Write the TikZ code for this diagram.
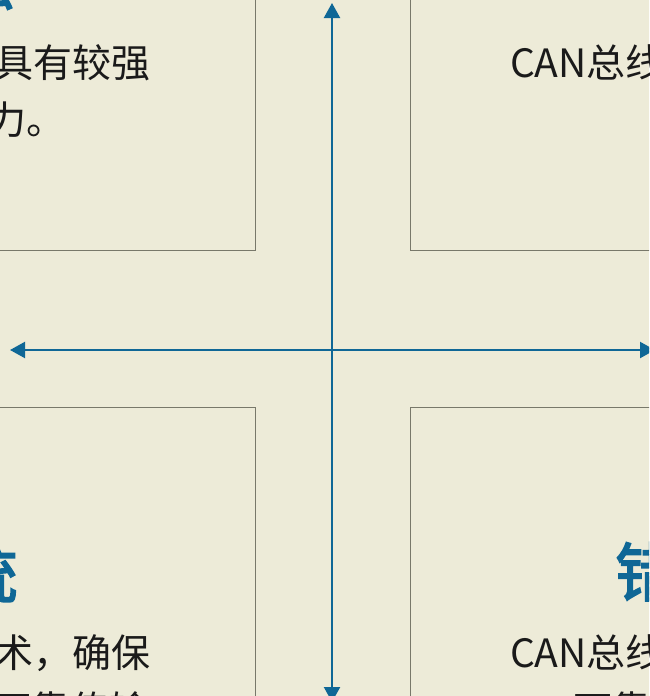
\documentclass[tikz,border=0pt]{standalone}
\usepackage{fontspec}
\setmainfont{Noto Sans CJK SC}
\newfontfamily\cjkbold{Noto Sans CJK SC}[FakeBold=2.5]
\usetikzlibrary{arrows.meta}
\definecolor{bgc}{HTML}{EDEBD8}
\definecolor{axisblue}{HTML}{0F6796}
\definecolor{boxline}{HTML}{78786A}
\definecolor{txt}{HTML}{1A1A1A}
\tikzset{
  panel/.style={draw=boxline, line width=1pt, fill=bgc, rectangle, inner sep=0pt, outer sep=0pt},
  body/.style={inner sep=0pt, outer sep=0pt, text=txt, font=\fontsize{39}{47}\selectfont},
  head/.style={inner sep=0pt, outer sep=0pt, text=axisblue, font=\cjkbold\fontsize{64}{70}\selectfont},
  axis/.style={draw=axisblue, line width=2.2pt, {Triangle[length=15pt,width=16pt]}-{Triangle[length=15pt,width=16pt]}}
}
\begin{document}
\begin{tikzpicture}[x=1pt,y=-1pt]
\useasboundingbox (0,0) rectangle (649,696);
\fill[bgc] (0,0) rectangle (649,696);
\clip (0,0) rectangle (649,696);
% panels
\node[panel, minimum width=455pt, minimum height=400pt, anchor=south east] (tl) at (255,250) {};
\node[panel, minimum width=455pt, minimum height=400pt, anchor=south west] (tr) at (410,250) {};
\node[panel, minimum width=455pt, minimum height=443pt, anchor=north east] (bl) at (255,407) {};
\node[panel, minimum width=455pt, minimum height=443pt, anchor=north west] (br) at (410,407) {};
% top-left texts
\node[head, anchor=base east] (tlh) at (14,4) {抗干扰性强};
\node[body, anchor=base east] (tl1) at (151,77) {总线具有较强};
\node[body, anchor=base east] (tl2) at (66,134) {抗干扰能力。};
% top-right texts
\node[body, anchor=base west] (tr1) at (510,77) {CAN总线通信};
% bottom-left texts
\node[head, anchor=base east] (blh) at (18,598) {系统};
\node[body, anchor=base east] (bl1) at (151,667) {技术，确保};
\node[body, anchor=base west] (bl2) at (-8,724) {可靠传输};
% bottom-right texts
\node[head, anchor=base west] (brh) at (615,596) {错误检测};
\node[body, anchor=base west] (br1) at (510,667) {CAN总线具有};
\node[body, anchor=base west] (br2) at (573,724) {可靠性高};
% axes
\coordinate (left) at (10,350);
\coordinate (right) at (655,350);
\coordinate (top) at (332,3);
\coordinate (bottom) at (332,702);
\draw[axis] (left) -- (right);
\draw[axis] (top) -- (bottom);
\end{tikzpicture}
\end{document}
